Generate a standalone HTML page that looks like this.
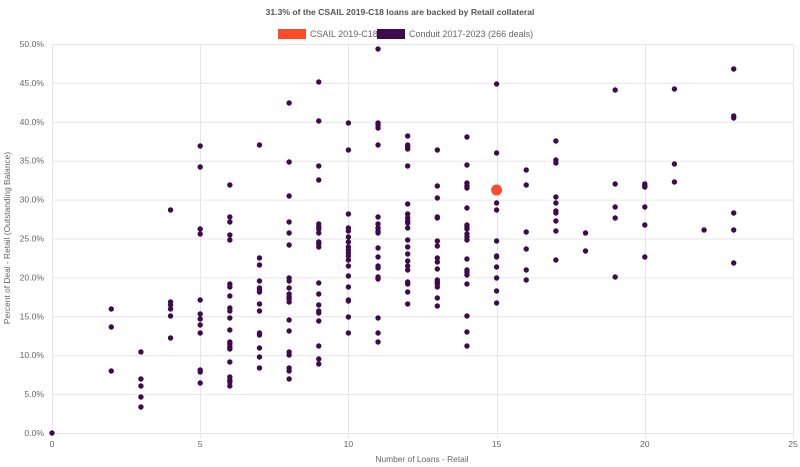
<!DOCTYPE html>
<html><head><meta charset="utf-8"><style>
body{margin:0;background:#fff;}
svg{display:block;font-family:"Liberation Sans",sans-serif;}
</style></head><body>
<svg id="s" width="800" height="467" xmlns="http://www.w3.org/2000/svg">
<text x="400" y="15" text-anchor="middle" font-size="8.6" font-weight="bold" fill="#555">31.3% of the CSAIL 2019-C18 loans are backed by Retail collateral</text>
<rect x="278" y="29" width="28" height="10" fill="#ff4a2b"/>
<text x="310" y="37" font-size="9" fill="#666">CSAIL 2019-C18</text>
<rect x="377" y="29" width="28" height="10" fill="#3f0a4f"/>
<text x="409" y="37" font-size="9" fill="#666">Conduit 2017-2023 (266 deals)</text>
<g id="grid" stroke="#e6e6e6" stroke-width="1"></g>
<g id="lab" font-size="8.6" fill="#666"></g>
<text x="422" y="462" text-anchor="middle" font-size="8.4" fill="#666">Number of Loans - Retail</text>
<text transform="translate(10,238) rotate(-90)" text-anchor="middle" font-size="8.4" fill="#666">Percent of Deal - Retail (Outstanding Balance)</text>
<g id="pts" fill="#3f0a4f"></g>
<circle cx="496.6" cy="190" r="5.5" fill="#ff4a2b"/>
</svg>
<script>
var ns="http://www.w3.org/2000/svg";
function X(v){return 52+v*29.64;}
function Y(p){return 433-p*7.78;}
var g=document.getElementById('grid'),l=document.getElementById('lab'),pt=document.getElementById('pts');
function el(p,t,a,tx){var e=document.createElementNS(ns,t);for(var k in a)e.setAttribute(k,a[k]);if(tx)e.textContent=tx;p.appendChild(e);}
for(var i=0;i<=10;i++){var y=Y(i*5);el(g,'line',{x1:X(0),x2:X(25),y1:y+.5,y2:y+.5});el(l,'text',{x:44,y:y+3,'text-anchor':'end'},(i*5).toFixed(1)+'%');}
for(var i=0;i<=5;i++){var x=X(i*5);el(g,'line',{x1:Math.round(x)+.5,x2:Math.round(x)+.5,y1:Y(50),y2:Y(0)+5});el(l,'text',{x:x,y:447,'text-anchor':'middle'},String(i*5));}
var d={0:[433],2:[309,327,371],3:[352,379,386,397,407],4:[210,302,305,309,316,338],
5:[146,167,229,234,300,314,319,325,333,370,372,383],
6:[185,217,222,235,240,284,287,296,308,311,318,330,342,344,347,349,362,377,380,382,386],
7:[145,258,265,281,288,290,292,304,311,333,335,348,357,368],
8:[103,162,196,222,233,245,278,281,288,294,297,299,302,320,331,352,355,368,371,379],
9:[82,121,166,180,224,227,229,233,242,244,247,283,294,305,311,313,321,346,359,364],
10:[123,150,214,228,231,237,242,247,250,253,256,260,266,276,287,300,301,317,333],
11:[49,123,125,128,145,217,224,228,231,233,248,257,266,268,277,279,318,333,342],
12:[136,145,147,149,166,204,214,218,221,223,228,240,247,254,261,266,270,282,284,292,304],
13:[150,186,198,217,218,241,246,258,262,269,280,282,284,287,298,306],
14:[137,165,183,186,188,208,225,227,229,234,237,240,259,270,272,275,284,316,332,346],
15:[84,153,203,210,241,256,257,267,278,291,303],
16:[170,185,232,249,270,280],17:[141,160,163,197,203,211,213,221,231,260],
18:[233,251],19:[90,184,207,218,277],20:[184,186,187,207,225,257],21:[89,164,182],22:[230],23:[69,116,118,213,230,263]};
for(var k in d)d[k].forEach(function(y){el(pt,'circle',{cx:X(+k),cy:y,r:2.7});});
</script>
</body></html>
